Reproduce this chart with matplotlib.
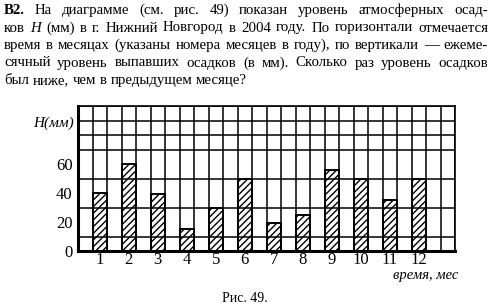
import matplotlib
matplotlib.use('Agg')
import matplotlib.pyplot as plt
import numpy as np

# Данные диаграммы: осадки по месяцам, Нижний Новгород, 2004
months = [1, 2, 3, 4, 5, 6, 7, 8, 9, 10, 11, 12]
rain_mm = [40, 60, 39, 15, 30, 50, 19, 25, 56, 50, 35, 50]
ytick_vals = [0, 20, 40, 60]

text_lines = [
    'В2. На диаграмме (см. рис. 49) показан уровень атмосферных осад-',
    'ков H (мм) в г. Нижний Новгород в 2004 году. По горизонтали отмечается',
    'время в месяцах (указаны номера месяцев в году), по вертикали — ежеме-',
    'сячный уровень выпавших осадков (в мм). Сколько раз уровень осадков',
    'был ниже, чем в предыдущем месяце?',
]

plt.rcParams['font.family'] = ['Liberation Serif', 'DejaVu Serif']
plt.rcParams['hatch.linewidth'] = 1.0

W, H = 491, 305
fig = plt.figure(figsize=(W / 100, H / 100), dpi=100)

# Сетка диаграммы
ax = fig.add_axes([78 / W, 1 - 251 / H, 377 / W, 145 / H])
ax.bar([2 * m - 1 for m in months], rain_mm, width=1, align='edge',
       facecolor='none', edgecolor='black', hatch='/////', linewidth=1.4, zorder=3)
ax.set_xlim(0, 26)
ax.set_ylim(0, 100)
ax.set_xticks(np.arange(0, 27), minor=True)
ax.set_yticks(np.arange(0, 101, 10), minor=True)
ax.set_xticks([2 * m - 0.5 for m in months])
ax.set_xticklabels([str(m) for m in months])
ax.set_yticks(ytick_vals)
ax.set_yticklabels([str(v) for v in ytick_vals])
ax.grid(which='minor', color='black', linewidth=1.1)
ax.grid(which='major', visible=False)
ax.tick_params(which='both', length=0, labelsize=12)
ax.tick_params(axis='x', pad=1)
ax.tick_params(axis='y', pad=4)
for side in ['left', 'bottom']:
    ax.spines[side].set_linewidth(2.2)
for side in ['top', 'right']:
    ax.spines[side].set_linewidth(1.2)

ax.text(-0.28, 88, 'H(мм)', ha='right', va='center', style='italic', fontsize=11)
fig.text(458 / W, 1 - 276 / H, 'время, мес', ha='right', va='center',
         style='italic', fontsize=10.5)
fig.text(245 / W, 1 - 298 / H, 'Рис. 49.', ha='center', va='center', fontsize=10)

# Текст задачи, выровненный по ширине
FS = 10.7
renderer = fig.canvas.get_renderer()
left, right = 4, 488
baselines = [14, 31.5, 49, 66.5, 84]
for i, line in enumerate(text_lines):
    words = line.split()
    objs = []
    for w in words:
        kw = {}
        if w == 'В2.':
            kw['weight'] = 'bold'
        if w == 'H':
            kw['style'] = 'italic'
        t = fig.text(0, 1 - baselines[i] / H, w, fontsize=FS, va='baseline',
                     ha='left', **kw)
        objs.append(t)
    widths = [t.get_window_extent(renderer).width for t in objs]
    if i < len(text_lines) - 1:
        gap = (right - left - sum(widths)) / (len(words) - 1)
    else:
        gap = 0.25 * FS * 100 / 72
    x = left
    for t, w in zip(objs, widths):
        t.set_x(x / W)
        x += w + gap

fig.savefig('out.png', dpi=100)
